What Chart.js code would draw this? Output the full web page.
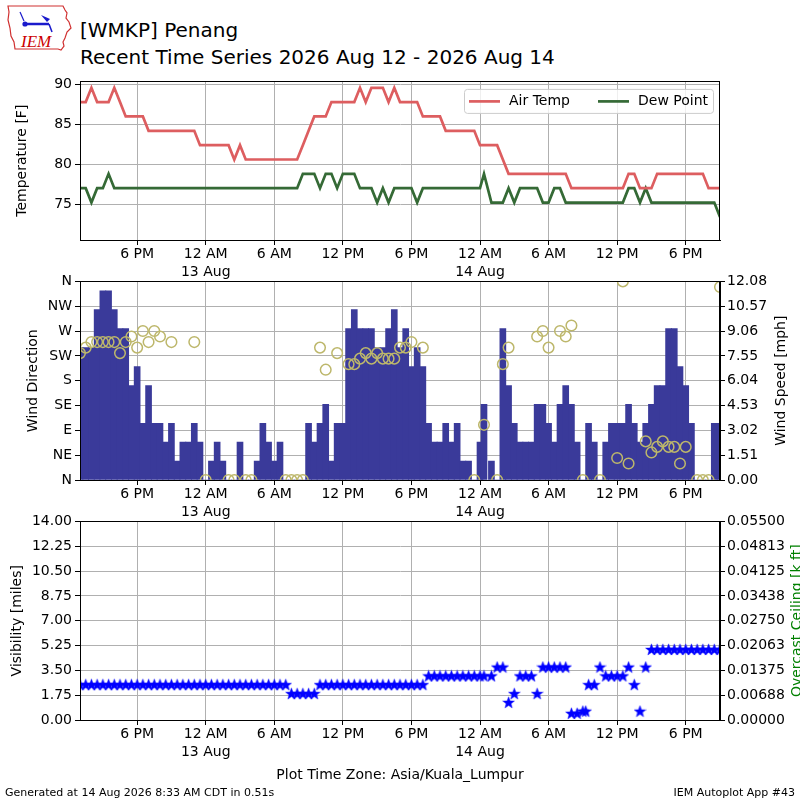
<!DOCTYPE html>
<html>
<head>
<meta charset="utf-8">
<script src="https://cdn.jsdelivr.net/npm/chart.js@4.4.1/dist/chart.umd.min.js"></script>
<style>
  body { margin: 0; background: #fff; font-family: "DejaVu Sans", sans-serif; }
  #page { position: relative; width: 800px; height: 800px; overflow: hidden; background: #fff; }
  canvas { position: absolute; left: 0; }
  .txt { position: absolute; white-space: nowrap; color: #000; }
</style>
</head>
<body>
<div id="page">
  <svg style="position:absolute;left:3px;top:2px" width="72" height="54" viewBox="0 0 72 54">
    <path d="M5,4 L60,4 L62,8 L64,11 L63,16 L66,20 L68,26 L64,30 L62,36 L60,40 L61,44 L58,48 L55,47 L12,47 L11,40 L8,34 L7,26 L5,18 L6,10 Z"
          fill="none" stroke="#d03030" stroke-width="1.2"/>
    <line x1="20" y1="22" x2="46" y2="22" stroke="#1a1acc" stroke-width="2.5"/>
    <circle cx="22" cy="22" r="2.6" fill="#1a1acc"/>
    <line x1="17" y1="10" x2="21" y2="19" stroke="#1a1acc" stroke-width="1.2"/>
    <path d="M38,13 L47,17 L44,20 Z" fill="#1a1acc"/>
    <line x1="46" y1="22" x2="49" y2="30" stroke="#1a1acc" stroke-width="1.5"/>
    <text x="18" y="45" font-family="Liberation Serif" font-style="italic" font-size="17" fill="#cc0000">IEM</text>
  </svg>
  <div class="txt" style="left:80px; top:17px; font-size:20px; line-height:27px;">[WMKP] Penang<br>Recent Time Series 2026 Aug 12 - 2026 Aug 14</div>
  <canvas id="c1" width="800" height="210" style="top:70px"></canvas>
  <canvas id="c2" width="800" height="250" style="top:270px"></canvas>
  <canvas id="c3" width="800" height="250" style="top:510px"></canvas>
  <div class="txt" style="left:0; width:800px; text-align:center; top:766px; font-size:14px; line-height:17px;">Plot Time Zone: Asia/Kuala_Lumpur</div>
  <div class="txt" style="left:5px; top:786px; font-size:11px; line-height:13px;">Generated at 14 Aug 2026 8:33 AM CDT in 0.51s</div>
  <div class="txt" style="right:5px; top:786px; font-size:11px; line-height:13px;">IEM Autoplot App #43</div>
</div>
<script>
// observation times, hours after 12 Aug 2026 00:00 local (Asia/Kuala_Lumpur)
var obsHours = [
  13, 13.5, 14, 14.5, 15, 15.5, 16, 16.5, 17, 17.5,
  18, 18.5, 19, 19.5, 20, 20.5, 21, 21.5, 22, 22.5,
  23, 23.5, 24, 24.5, 25, 25.5, 26, 26.5, 27, 27.5,
  28, 28.5, 29, 29.5, 30, 30.5, 31, 31.5, 32, 32.5,
  33, 33.5, 34, 34.5, 35, 35.5, 36, 36.5, 37, 37.5,
  38, 38.5, 39, 39.5, 40, 40.5, 41, 41.5, 42, 42.5,
  43, 43.5, 44, 44.5, 45, 45.5, 46, 46.5, 47, 47.5,
  48, 48.35, 49, 49.5, 50, 50.5, 51, 51.5, 52, 52.5,
  53, 53.5, 54, 54.5, 55, 55.5, 56, 56.5, 57, 57.25,
  57.5, 58, 58.5, 59, 59.5, 60, 60.5, 61, 61.5, 62,
  62.5, 63, 63.5, 64, 64.5, 65, 65.5, 66, 66.5, 67,
  67.5, 68, 68.5, 69
];

var airTempF = [
  87.8, 87.8, 89.6, 87.8, 87.8, 87.8, 89.6, 87.8, 86, 86,
  86, 86, 84.2, 84.2, 84.2, 84.2, 84.2, 84.2, 84.2, 84.2,
  84.2, 82.4, 82.4, 82.4, 82.4, 82.4, 82.4, 80.6, 82.4, 80.6,
  80.6, 80.6, 80.6, 80.6, 80.6, 80.6, 80.6, 80.6, 80.6, 82.4,
  84.2, 86, 86, 86, 87.8, 87.8, 87.8, 87.8, 87.8, 89.6,
  87.8, 89.6, 89.6, 89.6, 87.8, 89.6, 87.8, 87.8, 87.8, 87.8,
  86, 86, 86, 86, 84.2, 84.2, 84.2, 84.2, 84.2, 84.2,
  82.4, 82.4, 82.4, 82.4, 80.6, 78.8, 78.8, 78.8, 78.8, 78.8,
  78.8, 78.8, 78.8, 78.8, 78.8, 78.8, 77, 77, 77, null,
  77, 77, 77, 77, 77, 77, 77, 78.8, 78.8, 77,
  77, 77, 78.8, 78.8, 78.8, 78.8, 78.8, 78.8, 78.8, 78.8,
  78.8, 77, 77, 77
];

var dewPointF = [
  77, 77, 75.2, 77, 77, 78.8, 77, 77, 77, 77,
  77, 77, 77, 77, 77, 77, 77, 77, 77, 77,
  77, 77, 77, 77, 77, 77, 77, 77, 77, 77,
  77, 77, 77, 77, 77, 77, 77, 77, 77, 78.8,
  78.8, 78.8, 77, 78.8, 78.8, 77, 78.8, 78.8, 78.8, 77,
  77, 77, 75.2, 77, 75.2, 77, 77, 77, 77, 75.2,
  77, 77, 77, 77, 77, 77, 77, 77, 77, 77,
  77, 78.8, 75.2, 75.2, 75.2, 77, 75.2, 77, 77, 77,
  77, 75.2, 75.2, 77, 77, 75.2, 75.2, 75.2, 75.2, null,
  75.2, 75.2, 75.2, 75.2, 75.2, 75.2, 75.2, 77, 77, 75.2,
  77, 75.2, 75.2, 75.2, 75.2, 75.2, 75.2, 75.2, 75.2, 75.2,
  75.2, 75.2, 75.2, 73.4
];

var windSpeedMph = [
  8.06, 8.06, 8.06, 10.36, 11.51, 11.51, 10.36, 9.21, 9.21, 5.75,
  6.9, 3.45, 5.75, 3.45, 3.45, 2.3, 3.45, 1.15, 2.3, 2.3,
  3.45, 2.3, 0, 1.15, 2.3, 1.15, 0, 0, 2.3, 0,
  0, 1.15, 3.45, 2.3, 1.15, 2.3, 0, 0, 0, 0,
  3.45, 2.3, 3.45, 4.6, 1.15, 3.45, 3.45, 9.21, 10.36, 9.21,
  9.21, 9.21, 8.06, 8.06, 9.21, 10.36, 8.06, 9.21, 6.9, 8.06,
  6.9, 3.45, 2.3, 2.3, 3.45, 2.3, 3.45, 1.15, 1.15, 0,
  2.3, 4.6, 1.15, 0, 9.21, 5.75, 3.45, 2.3, 2.3, 2.3,
  4.6, 4.6, 3.45, 2.3, 4.6, 5.75, 4.6, 2.3, 0, null,
  3.45, 2.3, 0, 2.3, 3.45, 3.45, 3.45, 4.6, 3.45, 2.3,
  3.45, 4.6, 5.75, 5.75, 9.21, 9.21, 6.9, 5.75, 3.45, 0,
  0, 0, 3.45, 3.45
];

var windDirDeg = [
  230, 240, 250, 250, 250, 250, 250, 230, 250, 260,
  240, 270, 250, 270, 260, null, 250, null, null, null,
  250, null, 0, null, null, null, 0, 0, null, 0,
  0, null, null, null, null, null, 0, 0, 0, 0,
  null, null, 240, 200, null, 230, null, 210, 210, 220,
  230, 220, 230, 220, 220, 220, 240, 240, 250, null,
  240, null, null, null, null, null, null, null, null, 0,
  null, 100, null, 0, 210, 240, null, null, null, null,
  260, 270, 240, null, 270, 260, 280, null, 0, null,
  null, null, 0, null, null, 40, 360, 30, null, null,
  70, 50, 60, 70, 60, 60, 30, 60, null, 0,
  0, 0, null, 350
];

var visibilityMi = [
  2.49, 2.49, 2.49, 2.49, 2.49, 2.49, 2.49, 2.49, 2.49, 2.49,
  2.49, 2.49, 2.49, 2.49, 2.49, 2.49, 2.49, 2.49, 2.49, 2.49,
  2.49, 2.49, 2.49, 2.49, 2.49, 2.49, 2.49, 2.49, 2.49, 2.49,
  2.49, 2.49, 2.49, 2.49, 2.49, 2.49, 2.49, 1.86, 1.86, 1.86,
  1.86, 1.86, 2.49, 2.49, 2.49, 2.49, 2.49, 2.49, 2.49, 2.49,
  2.49, 2.49, 2.49, 2.49, 2.49, 2.49, 2.49, 2.49, 2.49, 2.49,
  2.49, 3.11, 3.11, 3.11, 3.11, 3.11, 3.11, 3.11, 3.11, 3.11,
  3.11, 3.11, 3.11, 3.73, 3.73, 1.24, 1.86, 3.11, 3.11, 3.11,
  1.86, 3.73, 3.73, 3.73, 3.73, 3.73, 0.47, 0.47, 0.62, 0.62,
  2.49, 2.49, 3.73, 3.11, 3.11, 3.11, 3.11, 3.73, 2.49, 0.62,
  3.73, 4.97, 4.97, 4.97, 4.97, 4.97, 4.97, 4.97, 4.97, 4.97,
  4.97, 4.97, 4.97, 4.97
];

var ceilingKft = []; // no overcast ceiling reported

var xTickHours = [18, 24, 30, 36, 42, 48, 54, 60, 66];
var xTickLabels = ['6 PM', ['12 AM', '13 Aug'], '6 AM', '12 PM', '6 PM', ['12 AM', '14 Aug'], '6 AM', '12 PM', '6 PM'];
var tempTicks = [75, 80, 85, 90];
var tempTickLabels = ['75', '80', '85', '90'];
var dirTicks = [0, 45, 90, 135, 180, 225, 270, 315, 360];
var dirTickLabels = ['N', 'NE', 'E', 'SE', 'S', 'SW', 'W', 'NW', 'N'];
var speedTicks = [0, 1.51, 3.02, 4.53, 6.04, 7.55, 9.06, 10.57, 12.08];
var speedTickLabels = ['0.00', '1.51', '3.02', '4.53', '6.04', '7.55', '9.06', '10.57', '12.08'];
var visTicks = [0, 1.75, 3.5, 5.25, 7, 8.75, 10.5, 12.25, 14];
var visTickLabels = ['0.00', '1.75', '3.50', '5.25', '7.00', '8.75', '10.50', '12.25', '14.00'];
var ceilTicks = [0, 0.006875, 0.01375, 0.020625, 0.0275, 0.034375, 0.04125, 0.048125, 0.055];
var ceilTickLabels = ['0.00000', '0.00688', '0.01375', '0.02063', '0.02750', '0.03438', '0.04125', '0.04813', '0.05500'];

var FONT = 'DejaVu Sans';
var GRID = '#b0b0b0';
Chart.defaults.font.family = FONT;
Chart.defaults.color = '#000';

function pts(values) {
  return obsHours.map(function (h, i) { return { x: h, y: values[i] }; })
                 .filter(function (p) { return p.y !== null && p.y !== undefined; });
}

function xAxis() {
  return {
    type: 'linear', min: 13, max: 69, offset: false,
    afterBuildTicks: function (s) { s.ticks = xTickHours.map(function (v) { return { value: v }; }); },
    afterFit: function (s) { s.height = 40; },
    ticks: {
      autoSkip: false, maxRotation: 0, color: '#000', padding: 0,
      font: { family: FONT, size: 14, lineHeight: 1.3 },
      callback: function (v, i) { return xTickLabels[i]; }
    },
    grid: { color: GRID, lineWidth: 1, tickLength: 5, tickColor: '#000', offset: false },
    border: { display: true, color: '#000', width: 1 }
  };
}

function leftAxis(min, max, values, labels, title, titlePad) {
  return {
    type: 'linear', position: 'left', min: min, max: max,
    afterBuildTicks: function (s) { s.ticks = values.map(function (v) { return { value: v }; }); },
    afterFit: function (s) { s.width = 80; },
    ticks: { color: '#000', padding: 3, font: { family: FONT, size: 14 },
             callback: function (v, i) { return labels[i]; } },
    grid: { color: GRID, lineWidth: 1, tickLength: 5, tickColor: '#000' },
    border: { display: true, color: '#000', width: 1 },
    title: { display: true, text: title, color: '#000', font: { family: FONT, size: 14 },
             padding: { top: titlePad, bottom: 0 } }
  };
}

function rightAxis(min, max, values, labels) {
  return {
    type: 'linear', position: 'right', min: min, max: max,
    afterBuildTicks: function (s) { s.ticks = values.map(function (v) { return { value: v }; }); },
    afterFit: function (s) { s.width = 80; },
    ticks: { color: '#000', padding: 2, font: { family: FONT, size: 14 },
             callback: function (v, i) { return labels[i]; } },
    grid: { drawOnChartArea: false, tickLength: 5, tickColor: '#000' },
    border: { display: true, color: '#000', width: 1 }
  };
}

function baseOptions(padRight, scales) {
  return {
    responsive: false, animation: false, devicePixelRatio: 1, events: [],
    layout: { padding: { top: 10, right: padRight, left: 0, bottom: 0 } },
    plugins: { legend: { display: false }, tooltip: { enabled: false } },
    scales: scales
  };
}

var frame = {
  id: 'frame',
  afterDraw: function (chart) {
    var a = chart.chartArea, ctx = chart.ctx;
    ctx.save();
    ctx.strokeStyle = '#000';
    ctx.lineWidth = 1;
    ctx.strokeRect(Math.round(a.left) + 0.5, Math.round(a.top) + 0.5,
                   Math.round(a.right - a.left) - 1, Math.round(a.bottom - a.top));
    ctx.restore();
  }
};

function sideTitle(text, x, color) {
  return {
    id: 'sideTitle',
    afterDraw: function (chart) {
      var a = chart.chartArea, ctx = chart.ctx;
      ctx.save();
      ctx.translate(x, (a.top + a.bottom) / 2);
      ctx.rotate(-Math.PI / 2);
      ctx.font = '14px "' + FONT + '"';
      ctx.fillStyle = color;
      ctx.textAlign = 'center';
      ctx.textBaseline = 'middle';
      ctx.fillText(text, 0, 0);
      ctx.restore();
    }
  };
}

var legendBox = {
  id: 'legendBox',
  afterDraw: function (chart) {
    var a = chart.chartArea, ctx = chart.ctx;
    var x0 = a.right - 256, y0 = a.top + 7.5, w = 249, h = 24;
    ctx.save();
    ctx.beginPath();
    if (ctx.roundRect) ctx.roundRect(x0 + 0.5, y0 + 0.5, w, h, 3); else ctx.rect(x0 + 0.5, y0 + 0.5, w, h);
    ctx.fillStyle = 'rgba(255,255,255,0.8)';
    ctx.fill();
    ctx.strokeStyle = '#cccccc';
    ctx.lineWidth = 1;
    ctx.stroke();
    var ym = y0 + h / 2 + 0.5;
    ctx.font = '14px "' + FONT + '"';
    ctx.textBaseline = 'middle';
    ctx.textAlign = 'left';
    chart.data.datasets.forEach(function (ds, i) {
      var sx = x0 + 5 + i * 129;
      ctx.strokeStyle = ds.borderColor;
      ctx.lineWidth = 2.7;
      ctx.beginPath();
      ctx.moveTo(sx, ym);
      ctx.lineTo(sx + 31, ym);
      ctx.stroke();
      ctx.fillStyle = '#000';
      ctx.fillText(ds.label, sx + 40, ym);
    });
    ctx.restore();
  }
};

function starImage(size, color) {
  var c = document.createElement('canvas');
  c.width = size; c.height = size;
  var g = c.getContext('2d');
  var cx = size / 2, cy = size / 2 + 0.5, R = size / 2 - 0.3, r = R * 0.42;
  g.beginPath();
  for (var i = 0; i < 10; i++) {
    var ang = -Math.PI / 2 + i * Math.PI / 5;
    var rad = (i % 2) ? r : R;
    g.lineTo(cx + rad * Math.cos(ang), cy + rad * Math.sin(ang));
  }
  g.closePath();
  g.fillStyle = color;
  g.fill();
  g.strokeStyle = 'rgba(0,0,255,0.5)';
  g.lineWidth = 0.8;
  g.stroke();
  return c;
}

// temperature panel
new Chart(document.getElementById('c1'), {
  type: 'line',
  data: {
    datasets: [
      { label: 'Air Temp', data: pts(airTempF), borderColor: '#dd5e60', borderWidth: 2.7,
        pointRadius: 0, tension: 0, clip: 0 },
      { label: 'Dew Point', data: pts(dewPointF), borderColor: '#356a36', borderWidth: 2.7,
        pointRadius: 0, tension: 0, clip: 0 }
    ]
  },
  options: baseOptions(80, {
    x: xAxis(),
    y: leftAxis(70.5, 90.4, tempTicks, tempTickLabels, 'Temperature [F]', 14)
  }),
  plugins: [frame, legendBox]
});

// wind panel
new Chart(document.getElementById('c2'), {
  type: 'scatter',
  data: {
    datasets: [
      { type: 'scatter', label: 'Wind Direction', data: pts(windDirDeg), yAxisID: 'yd',
        pointStyle: 'circle', pointRadius: 5.3, pointBorderWidth: 1.5,
        pointBorderColor: '#bdb76b', pointBackgroundColor: 'rgba(0,0,0,0)', clip: 0, order: 0 },
      { type: 'bar', label: 'Wind Speed', data: pts(windSpeedMph), yAxisID: 'ys',
        backgroundColor: '#3a3a9a', borderWidth: 0, barThickness: 6, grouped: false, clip: 0, order: 1 }
    ]
  },
  options: baseOptions(0, {
    x: xAxis(),
    yd: leftAxis(0, 360, dirTicks, dirTickLabels, 'Wind Direction', 25),
    ys: rightAxis(0, 12.08, speedTicks, speedTickLabels)
  }),
  plugins: [frame, sideTitle('Wind Speed [mph]', 781, '#000')]
});

// visibility / ceiling panel
new Chart(document.getElementById('c3'), {
  type: 'scatter',
  data: {
    datasets: [
      { label: 'Visibility', data: pts(visibilityMi), yAxisID: 'yv',
        pointStyle: starImage(13, '#0000ff'), pointRadius: 6, clip: 0 },
      { label: 'Overcast Ceiling', data: ceilingKft, yAxisID: 'yc',
        pointRadius: 4, pointBackgroundColor: 'green' }
    ]
  },
  options: baseOptions(0, {
    x: xAxis(),
    yv: leftAxis(0, 14, visTicks, visTickLabels, 'Visibility [miles]', 9),
    yc: rightAxis(0, 0.055, ceilTicks, ceilTickLabels)
  }),
  plugins: [frame, sideTitle('Overcast Ceiling [k ft]', 797, '#008000')]
});
</script>
</body>
</html>
